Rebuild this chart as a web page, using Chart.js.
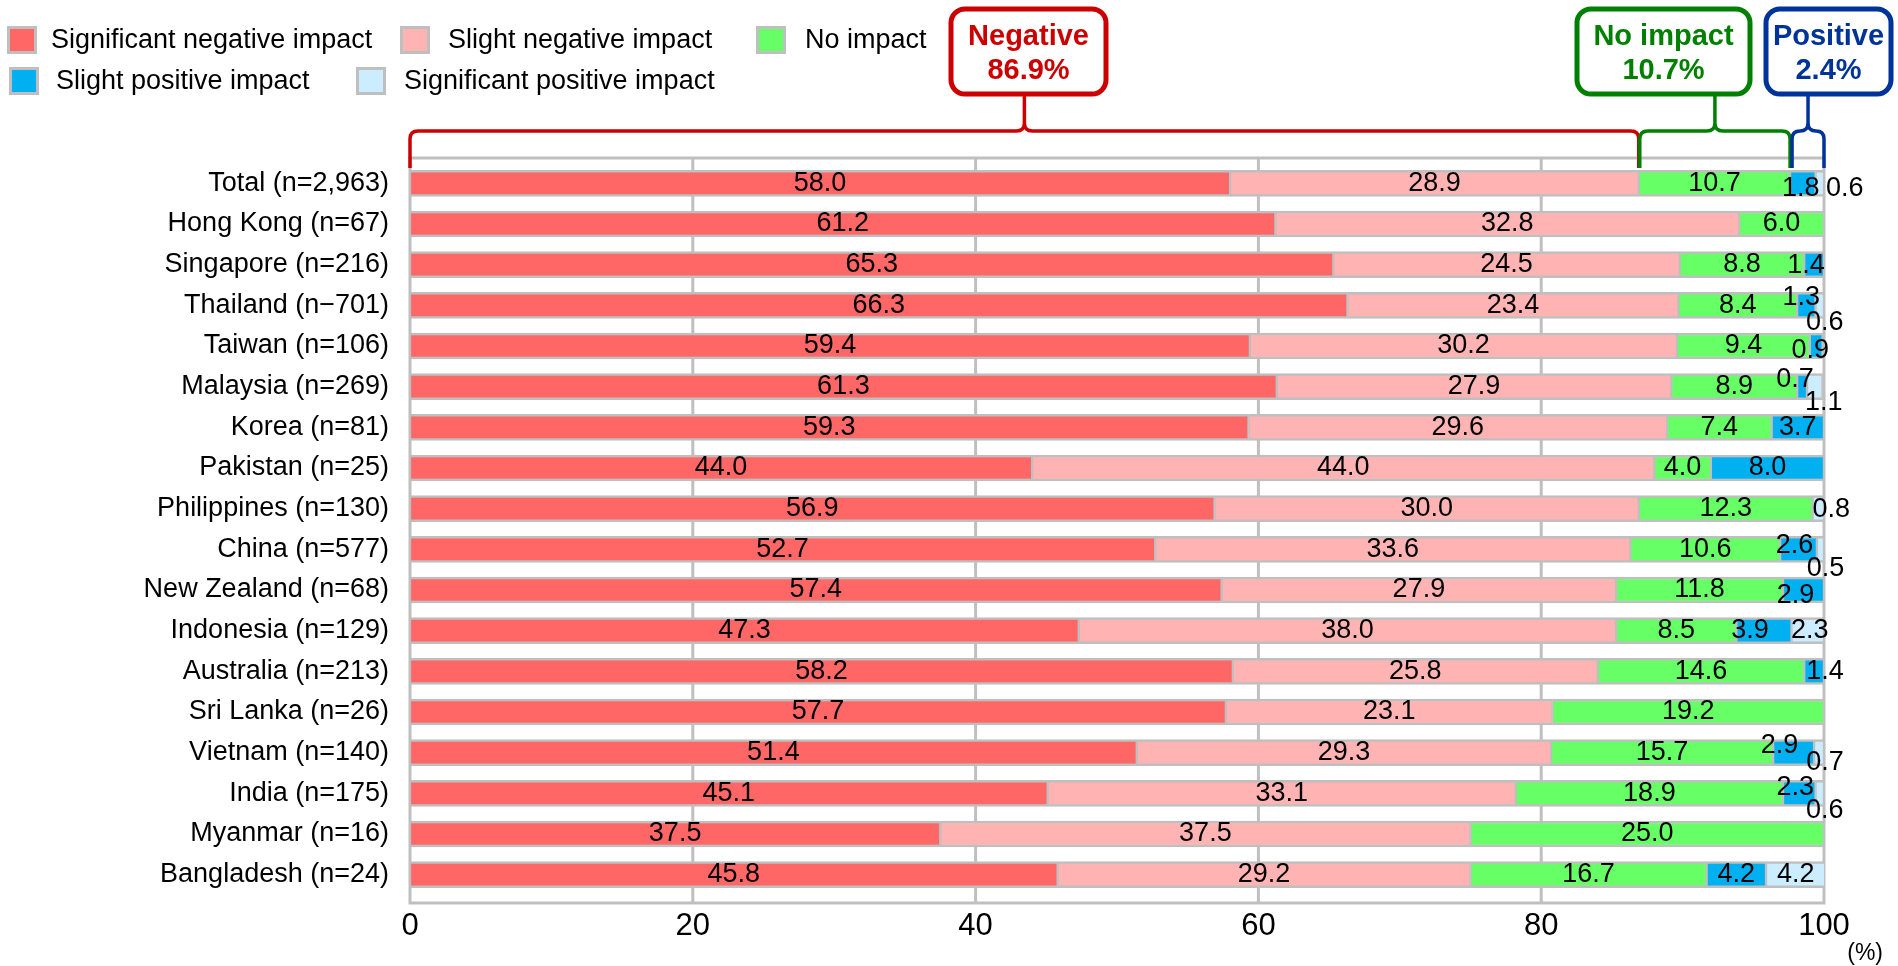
<!DOCTYPE html>
<html lang="en">
<head>
<meta charset="UTF-8">
<title>Impact by country</title>
<script src="https://cdn.jsdelivr.net/npm/chart.js"></script>
<style>
  html, body { margin: 0; padding: 0; background: #fff; }
  #wrap { width: 1898px; height: 966px; }
</style>
</head>
<body>
<div id="wrap"><canvas id="myChart" width="1898" height="966"></canvas></div>
<script>
// categories (top to bottom)
const countries = [
  'Total (n=2,963)', 'Hong Kong (n=67)', 'Singapore (n=216)', 'Thailand (n\u2212701)',
  'Taiwan (n=106)', 'Malaysia (n=269)', 'Korea (n=81)', 'Pakistan (n=25)',
  'Philippines (n=130)', 'China (n=577)', 'New Zealand (n=68)', 'Indonesia (n=129)',
  'Australia (n=213)', 'Sri Lanka (n=26)', 'Vietnam (n=140)', 'India (n=175)',
  'Myanmar (n=16)', 'Bangladesh (n=24)'
];
// series values (%)
const sigNegative    = [58.0, 61.2, 65.3, 66.3, 59.4, 61.3, 59.3, 44.0, 56.9, 52.7, 57.4, 47.3, 58.2, 57.7, 51.4, 45.1, 37.5, 45.8];
const slightNegative = [28.9, 32.8, 24.5, 23.4, 30.2, 27.9, 29.6, 44.0, 30.0, 33.6, 27.9, 38.0, 25.8, 23.1, 29.3, 33.1, 37.5, 29.2];
const noImpact       = [10.7,  6.0,  8.8,  8.4,  9.4,  8.9,  7.4,  4.0, 12.3, 10.6, 11.8,  8.5, 14.6, 19.2, 15.7, 18.9, 25.0, 16.7];
const slightPositive = [ 1.8,  0,    1.4,  1.3,  0.9,  0.7,  3.7,  8.0,  0,    2.6,  2.9,  3.9,  1.4,  0,    2.9,  2.3,  0,    4.2];
const sigPositive    = [ 0.6,  0,    0,    0.6,  0,    1.1,  0,    0,    0.8,  0.5,  0,    2.3,  0,    0,    0.7,  0.6,  0,    4.2];
const seriesNames = ['Significant negative impact', 'Slight negative impact', 'No impact',
                     'Slight positive impact', 'Significant positive impact'];
const xTicks = [0, 20, 40, 60, 80, 100];

const colors = ['#FF6666', '#FFB3B3', '#66FF66', '#00B0F0', '#CCECFF'];
const edge = '#BFBFBF';
const FONT = '"Liberation Sans", Arial, sans-serif';

// small labels that the original moved off-centre: "row-series": [dx, dy]
const labelNudge = {
  '0-3': [-2, 5], '0-4': [25, 5],
  '2-3': [-8, 1],
  '3-3': [-5, -8], '3-4': [5, 17],
  '4-3': [-6, 5],
  '5-3': [-7, -7], '5-4': [9, 16],
  '8-4': [13, 1],
  '9-3': [-4, -4], '9-4': [5, 19],
  '10-3': [-8, 6],
  '11-3': [-14, 0], '11-4': [2, 0],
  '12-3': [11, 0],
  '14-3': [-14, -7], '14-4': [6, 10],
  '15-3': [-4, -6], '15-4': [5, 17]
};

Chart.defaults.font.family = FONT;
Chart.defaults.color = '#000';

const allSeries = [sigNegative, slightNegative, noImpact, slightPositive, sigPositive];

// frame + vertical grid, reaching a little past the bar area like the original
const framePlugin = {
  id: 'frame',
  beforeDatasetsDraw(chart) {
    const c = chart.ctx, x = chart.scales.x, a = chart.chartArea;
    const top = a.top - 5, bottom = a.bottom + 8;
    c.save();
    c.strokeStyle = edge;
    c.lineWidth = 3;
    xTicks.slice(1, -1).forEach(t => {
      const px = x.getPixelForValue(t);
      c.beginPath(); c.moveTo(px, top); c.lineTo(px, bottom); c.stroke();
    });
    c.strokeRect(a.left, top, a.right - a.left, bottom - top);
    c.restore();
  }
};

const valueLabels = {
  id: 'valueLabels',
  afterDatasetsDraw(chart) {
    const c = chart.ctx;
    c.save();
    c.font = '27px ' + FONT;
    c.fillStyle = '#000';
    c.textAlign = 'center';
    c.textBaseline = 'middle';
    chart.data.datasets.forEach((ds, di) => {
      chart.getDatasetMeta(di).data.forEach((bar, i) => {
        const v = ds.data[i];
        if (!v) return;
        const n = labelNudge[i + '-' + di] || [0, 0];
        c.fillText(v.toFixed(1), (bar.x + bar.base) / 2 + n[0], bar.y + n[1]);
      });
    });
    c.restore();
  }
};

function brace(c, x0, x1, color, yLine, yEnd, yTop) {
  const xs = (x0 + x1) / 2;
  const r = Math.min(8, (x1 - x0) / 4);
  c.strokeStyle = color;
  c.lineWidth = 3.5;
  c.lineJoin = 'round';
  c.beginPath();
  c.moveTo(x0, yEnd);
  c.lineTo(x0, yLine + r);
  c.quadraticCurveTo(x0, yLine, x0 + r, yLine);
  c.lineTo(xs - r, yLine);
  c.quadraticCurveTo(xs, yLine, xs, yLine - r);
  c.lineTo(xs, yTop);
  c.moveTo(xs, yLine - r);
  c.quadraticCurveTo(xs, yLine, xs + r, yLine);
  c.lineTo(x1 - r, yLine);
  c.quadraticCurveTo(x1, yLine, x1, yLine + r);
  c.lineTo(x1, yEnd);
  c.stroke();
}

function callBox(c, left, right, color, line1, line2) {
  c.strokeStyle = color;
  c.lineWidth = 5;
  c.fillStyle = '#fff';
  c.beginPath();
  c.roundRect(left, 9, right - left, 85, 14);
  c.fill();
  c.stroke();
  c.fillStyle = color;
  c.font = 'bold 29px ' + FONT;
  c.textAlign = 'center';
  c.textBaseline = 'middle';
  const cx = (left + right) / 2;
  c.fillText(line1, cx, 37);
  c.fillText(line2, cx, 71);
}

const callouts = {
  id: 'callouts',
  afterDraw(chart) {
    const c = chart.ctx, x = chart.scales.x;
    const neg = sigNegative[0] + slightNegative[0];
    const none = noImpact[0];
    const pos = slightPositive[0] + sigPositive[0];
    const p0 = x.getPixelForValue(0);
    const p1 = x.getPixelForValue(neg);
    const p2 = x.getPixelForValue(neg + none);
    const p3 = x.getPixelForValue(100);
    c.save();
    brace(c, p0, p1, '#CC0000', 131, 168, 94);
    brace(c, p1 + 1, p2, '#008000', 131, 168, 94);
    brace(c, p2 + 2, p3, '#003399', 131, 168, 94);
    callBox(c, 951, 1106, '#CC0000', 'Negative', neg.toFixed(1) + '%');
    callBox(c, 1577, 1750, '#008000', 'No impact', none.toFixed(1) + '%');
    callBox(c, 1766, 1891, '#003399', 'Positive', pos.toFixed(1) + '%');

    // legend
    const items = [[7, 51, 40], [400, 448, 40], [756, 805, 40], [9, 56, 81], [356, 404, 81]];
    c.font = '27px ' + FONT;
    c.textAlign = 'left';
    c.textBaseline = 'middle';
    items.forEach((it, k) => {
      c.fillStyle = edge;
      c.fillRect(it[0], it[2] - 14, 30, 28);
      c.fillStyle = colors[k];
      c.fillRect(it[0] + 3, it[2] - 11, 24, 22);
      c.fillStyle = '#000';
      c.fillText(seriesNames[k], it[1], it[2] + 1);
    });

    // unit
    c.font = '23px ' + FONT;
    c.textAlign = 'right';
    c.fillText('(%)', 1883, 954);
    c.restore();
  }
};

const ctx = document.getElementById('myChart').getContext('2d');
const chart = new Chart(ctx, {
  type: 'bar',
  data: {
    labels: countries,
    datasets: allSeries.map((d, k) => ({
      label: seriesNames[k],
      data: d.map(v => v || null),
      backgroundColor: colors[k],
      borderColor: edge,
      borderWidth: { top: 2.5, bottom: 2.5, left: 1.5, right: 1.5 },
      borderSkipped: false,
      barThickness: 26
    }))
  },
  options: {
    indexAxis: 'y',
    responsive: false,
    animation: false,
    devicePixelRatio: 1,
    layout: { padding: { top: 163, right: 74, left: 0, bottom: 0 } },
    plugins: { legend: { display: false }, tooltip: { enabled: false } },
    scales: {
      x: {
        stacked: true, min: 0, max: 100,
        afterBuildTicks(s) { s.ticks = xTicks.map(v => ({ value: v })); },
        ticks: { color: '#000', font: { size: 31 }, padding: 13, maxRotation: 0 },
        grid: { display: false, drawTicks: false },
        border: { display: false },
        afterFit(s) { s.height = 71; }
      },
      y: {
        stacked: true,
        ticks: { color: '#000', font: { size: 27 }, padding: 21 },
        grid: { display: false, drawTicks: false },
        border: { display: false },
        afterFit(s) { s.width = 410; }
      }
    }
  },
  plugins: [framePlugin, valueLabels, callouts]
});
</script>
</body>
</html>
